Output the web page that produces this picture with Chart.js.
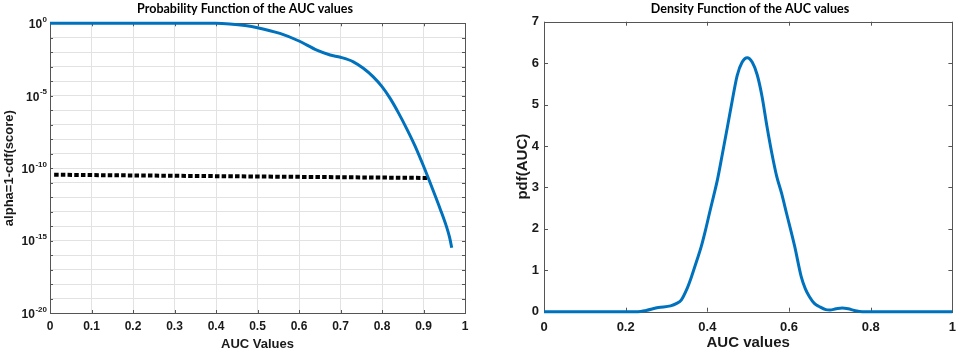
<!DOCTYPE html>
<html><head><meta charset="utf-8">
<script src="https://cdn.jsdelivr.net/npm/chart.js@4.4.1/dist/chart.umd.min.js"></script>
<style>
html,body{margin:0;padding:0;background:#fff;width:964px;height:352px;overflow:hidden}
#c1{position:absolute;left:0;top:0}
#c2{position:absolute;left:482px;top:0}
</style></head><body>
<canvas id="c1" width="482" height="352"></canvas>
<canvas id="c2" width="482" height="352"></canvas>
<script>
// ---- data ----
const cdfX = [0, 0.1, 0.2, 0.3, 0.35, 0.4, 0.433, 0.47, 0.5, 0.554, 0.6, 0.643, 0.675, 0.7, 0.731, 0.755, 0.779, 0.8, 0.82, 0.84, 0.86, 0.88, 0.9, 0.92, 0.94, 0.955, 0.963, 0.968];
const cdfAlpha = [1, 1, 1, 1, 0.999, 0.99, 0.89, 0.7, 0.5, 0.2, 0.06, 0.014, 0.0065, 0.0045, 0.0022, 7.8e-4, 2.0e-4, 4.2e-5, 6.3e-6, 6.3e-7, 5.0e-8, 3.2e-9, 1.4e-10, 5.0e-12, 1.6e-13, 1.0e-14, 1.6e-15, 3.2e-16];
const thresholdX = [0.01, 0.91];
const thresholdAlpha = [3.5e-11, 2.1e-11];
const pdfX = [0, 0.2, 0.23, 0.25, 0.28, 0.31, 0.325, 0.336, 0.35, 0.361, 0.373, 0.385, 0.395, 0.405, 0.415, 0.425, 0.437, 0.449, 0.461, 0.473, 0.485, 0.4976, 0.51, 0.522, 0.534, 0.546, 0.558, 0.57, 0.582, 0.594, 0.614, 0.63, 0.64, 0.65, 0.662, 0.675, 0.69, 0.70, 0.715, 0.73, 0.745, 0.76, 0.78, 0.8, 1];
const pdfY = [0, 0, 0, 0.03, 0.10, 0.14, 0.2, 0.28, 0.55, 0.84, 1.2, 1.57, 1.95, 2.37, 2.78, 3.2, 3.82, 4.45, 5.1, 5.7, 6.02, 6.13, 6.02, 5.72, 5.19, 4.47, 3.82, 3.26, 2.85, 2.37, 1.57, 0.84, 0.55, 0.36, 0.2, 0.12, 0.05, 0.04, 0.07, 0.09, 0.07, 0.03, 0, 0, 0];
const leftXTicks = [0, 0.1, 0.2, 0.3, 0.4, 0.5, 0.6, 0.7, 0.8, 0.9, 1];
const leftYExponents = [0,-1,-2,-3,-4,-5,-6,-7,-8,-9,-10,-11,-12,-13,-14,-15,-16,-17,-18,-19,-20];
const leftYLabelExponents = [0, -5, -10, -15, -20];
const rightXTicks = [0, 0.2, 0.4, 0.6, 0.8, 1];
const rightYTicks = [0, 1, 2, 3, 4, 5, 6, 7];

const TEXT = '#1a1a1a';
const BOX = '#555555';
const GRID = '#e2e2e2';
const BLUE = '#0072BD';
const FF = "'Liberation Sans', Arial, sans-serif";
Chart.defaults.font.family = FF;

function fmt(v){ return String(Math.round(v*10)/10); }

function boxTicks(len){
  return { id:'boxTicks', beforeDatasetsDraw(chart){
    const {ctx, chartArea:a, scales} = chart;
    ctx.save(); ctx.strokeStyle = BOX; ctx.lineWidth = 1;
    ctx.beginPath();
    scales.x.ticks.forEach(t=>{ const px = Math.round(scales.x.getPixelForValue(t.value))+0.5;
      ctx.moveTo(px,a.bottom); ctx.lineTo(px,a.bottom-len); ctx.moveTo(px,a.top); ctx.lineTo(px,a.top+len); });
    scales.y.ticks.forEach(t=>{ const py = Math.round(scales.y.getPixelForValue(t.value))+0.5;
      ctx.moveTo(a.left,py); ctx.lineTo(a.left+len,py); ctx.moveTo(a.right,py); ctx.lineTo(a.right-len,py); });
    ctx.stroke();
    ctx.strokeRect(Math.round(a.left)+0.5, Math.round(a.top)+0.5, Math.round(a.right-a.left), Math.round(a.bottom-a.top));
    ctx.restore();
  }};
}
function titlePlugin(text, cx){
  return { id:'ttl', afterDraw(chart){
    const ctx = chart.ctx; ctx.save();
    ctx.font = "bold 12.5px Lato, 'Liberation Sans', sans-serif"; ctx.fillStyle = '#000';
    ctx.textAlign = 'center'; ctx.textBaseline = 'middle';
    ctx.fillText(text, cx, 9); ctx.restore();
  }};
}
const logLabels = { id:'logLabels', afterDraw(chart){
  const y = chart.scales.y, ctx = chart.ctx; ctx.save();
  ctx.fillStyle = TEXT; ctx.textBaseline = 'middle';
  leftYLabelExponents.forEach(e=>{
    const py = y.getPixelForValue(Math.pow(10,e));
    const sup = String(e);
    ctx.font = 'bold 8px ' + FF; const w = ctx.measureText(sup).width;
    const right = 47;
    ctx.textAlign = 'left'; ctx.fillText(sup, right-w, py-3.5);
    ctx.font = 'bold 12px ' + FF; ctx.textAlign = 'right'; ctx.fillText('10', right-w-0.5, py+1.5);
  });
  ctx.restore();
}};

new Chart(document.getElementById('c1'), {
  type:'scatter',
  data:{ datasets:[
    { data: cdfX.map((x,i)=>({x, y:cdfAlpha[i]})), showLine:true, borderColor:BLUE, borderWidth:3, pointRadius:0, cubicInterpolationMode:'monotone', clip:4, order:0 },
    { data: thresholdX.map((x,i)=>({x, y:thresholdAlpha[i]})), showLine:true, borderColor:'#000', borderWidth:4, borderDash:[4.5,2.2], borderCapStyle:'butt', pointRadius:0, clip:4, order:1 }
  ]},
  options:{ responsive:false, animation:false, events:[],
    layout:{ padding:{ top:23.3, right:17, left:0, bottom:0 } },
    plugins:{ legend:{display:false}, tooltip:{enabled:false} },
    scales:{
      x:{ type:'linear', min:0, max:1,
        afterBuildTicks(s){ s.ticks = leftXTicks.map(v=>({value:v})); },
        ticks:{ callback:v=>fmt(v), font:{weight:'bold', size:12}, color:TEXT, padding:6, maxRotation:0, autoSkip:false },
        grid:{ color:GRID, drawTicks:false }, border:{display:false},
        title:{ display:true, text:'AUC Values', font:{weight:'bold', size:13}, color:TEXT, padding:{top:0,bottom:0} },
        afterFit(s){ s.height = 39; } },
      y:{ type:'logarithmic', min:1e-20, max:1,
        afterBuildTicks(s){ s.ticks = leftYExponents.map(e=>({value:Math.pow(10,e)})); },
        ticks:{ callback:()=>'', autoSkip:false },
        grid:{ color:GRID, drawTicks:false }, border:{display:false},
        title:{ display:true, text:'alpha=1-cdf(score)', font:{weight:'bold', size:13}, color:TEXT, padding:{top:2,bottom:0} },
        afterFit(s){ s.width = 50; } }
    }
  },
  plugins:[ boxTicks(3), logLabels, titlePlugin('Probability Function of the AUC values', 245) ]
});

new Chart(document.getElementById('c2'), {
  type:'scatter',
  data:{ datasets:[
    { data: pdfX.map((x,i)=>({x, y:pdfY[i]})), showLine:true, borderColor:BLUE, borderWidth:3, pointRadius:0, cubicInterpolationMode:'monotone', clip:4 }
  ]},
  options:{ responsive:false, animation:false, events:[],
    layout:{ padding:{ top:21.7, right:6, left:0, bottom:0 } },
    plugins:{ legend:{display:false}, tooltip:{enabled:false} },
    scales:{
      x:{ type:'linear', min:0, max:1,
        afterBuildTicks(s){ s.ticks = rightXTicks.map(v=>({value:v})); },
        ticks:{ callback:v=>fmt(v), font:{weight:'bold', size:13}, color:TEXT, padding:8, maxRotation:0, autoSkip:false },
        grid:{ display:false, drawTicks:false }, border:{display:false},
        title:{ display:true, text:'AUC values', font:{weight:'bold', size:15}, color:TEXT, padding:{top:0,bottom:0} },
        afterFit(s){ s.height = 40.3; } },
      y:{ type:'linear', min:0, max:7,
        afterBuildTicks(s){ s.ticks = rightYTicks.map(v=>({value:v})); },
        ticks:{ callback:v=>String(v), font:{weight:'bold', size:13}, color:TEXT, padding:5, autoSkip:false },
        grid:{ display:false, drawTicks:false }, border:{display:false},
        title:{ display:true, text:'pdf(AUC)', font:{weight:'bold', size:15}, color:TEXT, padding:{top:32,bottom:0} },
        afterFit(s){ s.width = 62; } }
    }
  },
  plugins:[ boxTicks(4), titlePlugin('Density Function of the AUC values', 268) ]
});
</script>
</body></html>
